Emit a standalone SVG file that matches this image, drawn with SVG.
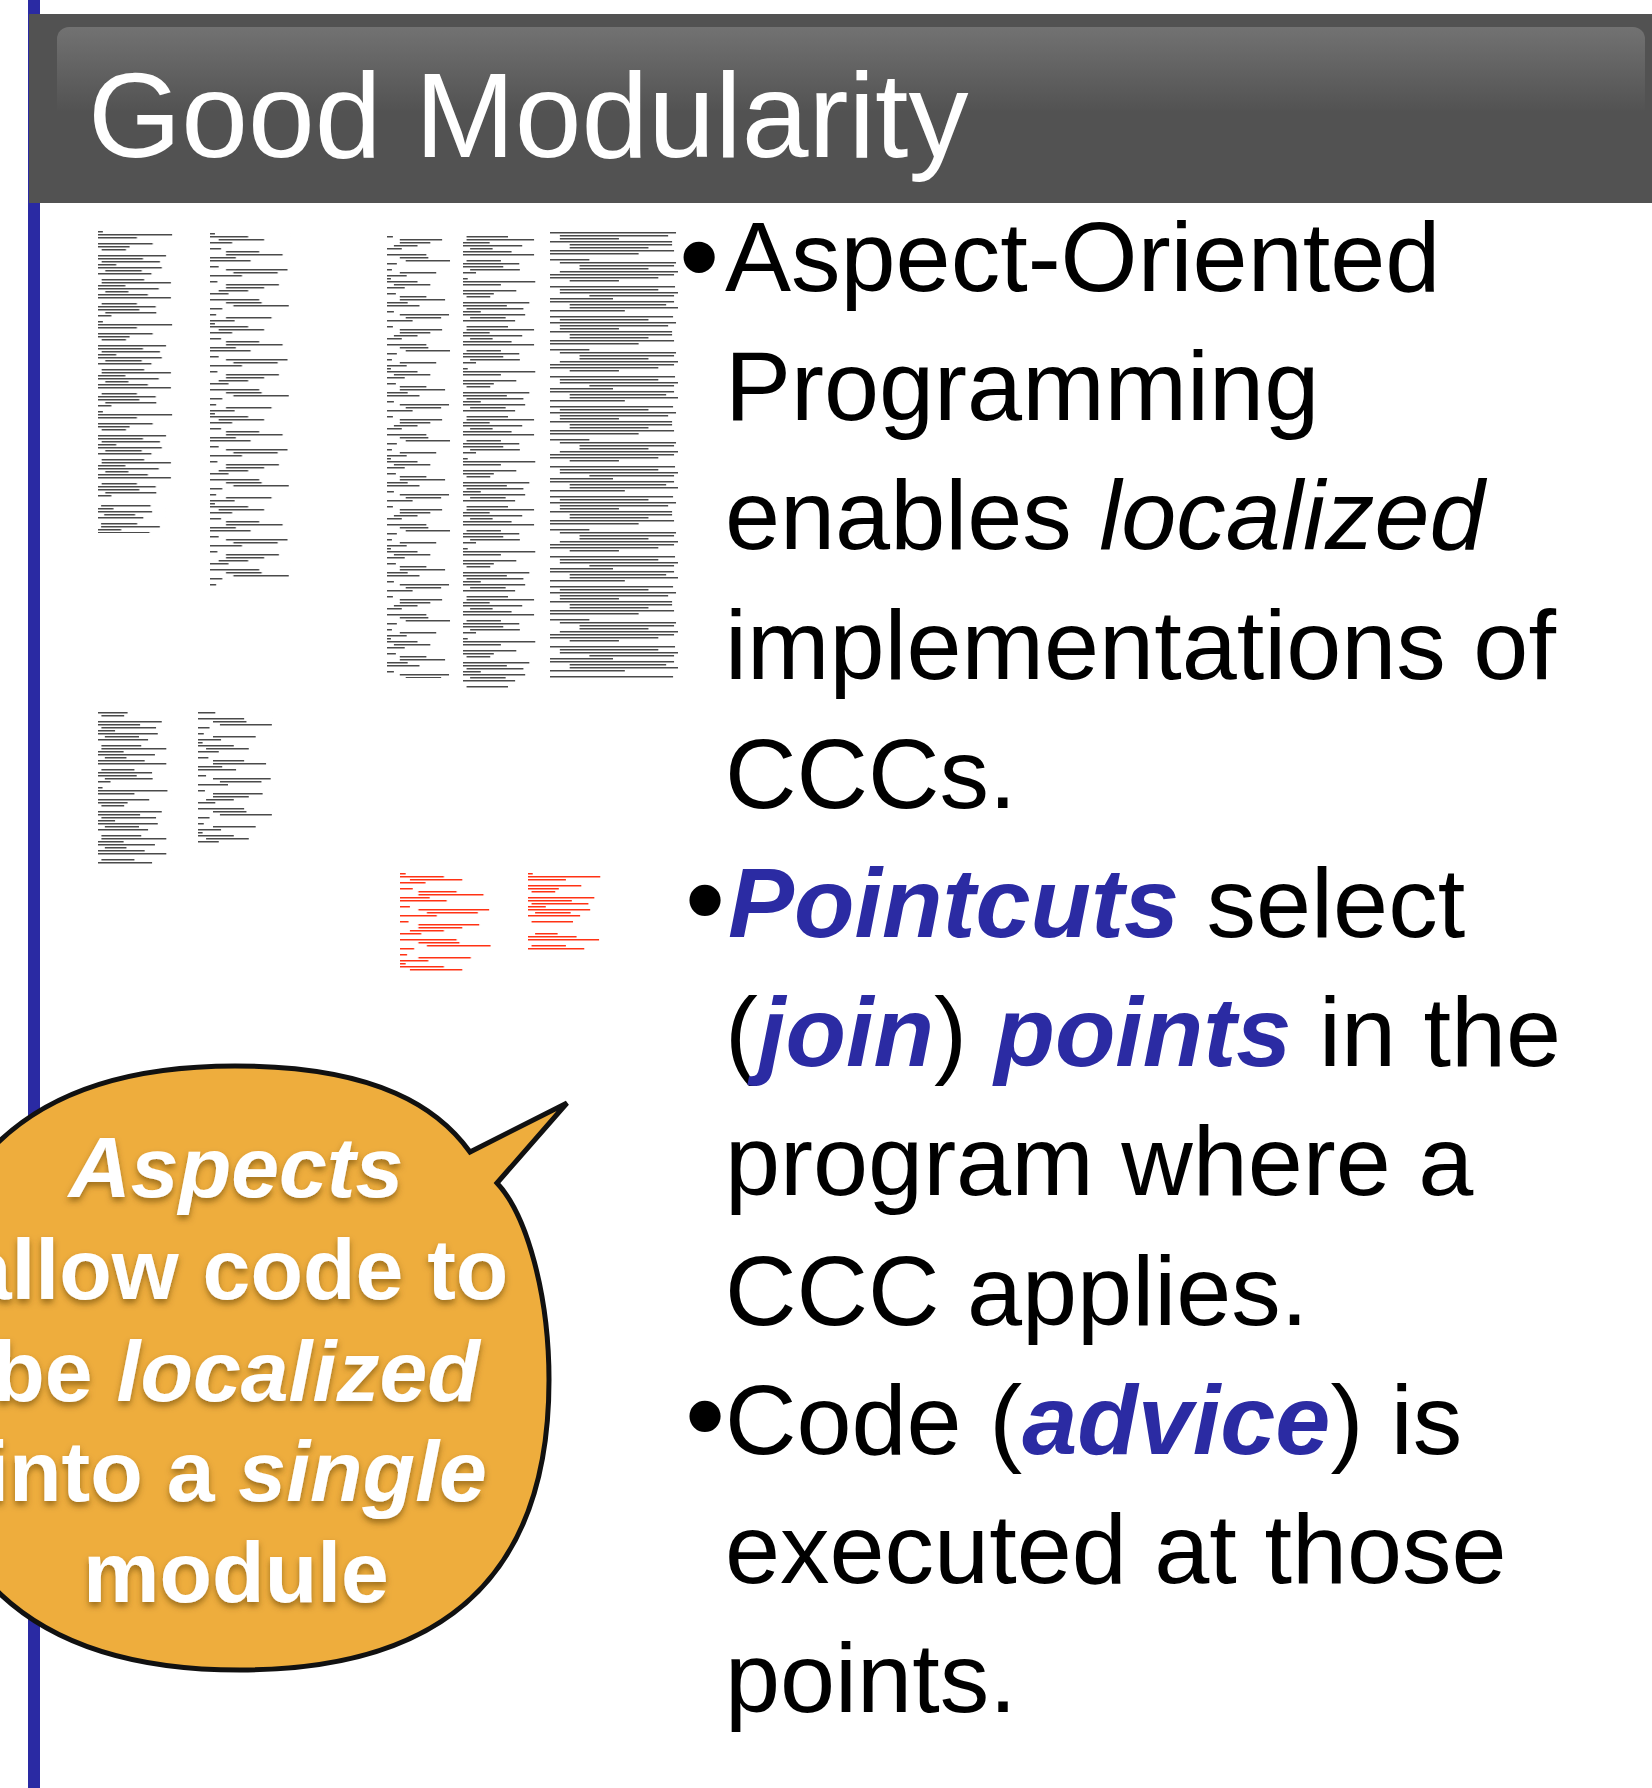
<svg xmlns="http://www.w3.org/2000/svg" xmlns:xlink="http://www.w3.org/1999/xlink" width="1652" height="1788" viewBox="0 0 1652 1788">
  <style>
    .body { font-family: "Liberation Sans", Arial, Helvetica, sans-serif; font-size: 99px; fill: #000; }
    .bul { font-family: "Liberation Sans", Arial, Helvetica, sans-serif; font-size: 115px; fill: #000; }
    .kw { font-weight: bold; font-style: italic; fill: #2b2ba3; }
    .it { font-style: italic; }
    .title { font-family: "Liberation Sans", Arial, Helvetica, sans-serif; font-size: 120px; fill: #fff; }
    .callout { font-family: "Liberation Sans", Arial, Helvetica, sans-serif; font-size: 86px; font-weight: bold; fill: #fff; text-anchor: middle; }
  </style>
  <defs>
    <linearGradient id="hdrGrad" gradientUnits="userSpaceOnUse" x1="0" y1="27" x2="0" y2="112">
      <stop offset="0" stop-color="#727272"/>
      <stop offset="1" stop-color="#525252"/>
    </linearGradient>
    <filter id="txtShadow" x="-20%" y="-20%" width="140%" height="160%">
      <feDropShadow dx="0" dy="4" stdDeviation="3" flood-color="#5a3a00" flood-opacity="0.55"/>
    </filter>

    <!-- greeked source-code lines, 3px pitch -->
    <g id="linesA">
      <rect x="0" y="0" width="8" height="1.5"/>
      <rect x="0" y="3" width="122" height="1.5"/>
      <rect x="0" y="6" width="64" height="1.5"/>
      <rect x="0" y="12" width="90" height="1.5"/>
      <rect x="0" y="15" width="52" height="1.5"/>
      <rect x="6" y="18" width="40" height="1.5"/>
      <rect x="0" y="24" width="112" height="1.5"/>
      <rect x="0" y="27" width="74" height="1.5"/>
      <rect x="6" y="30" width="96" height="1.5"/>
      <rect x="0" y="33" width="30" height="1.5"/>
      <rect x="0" y="36" width="105" height="1.5"/>
      <rect x="12" y="39" width="60" height="1.5"/>
      <rect x="0" y="42" width="88" height="1.5"/>
      <rect x="6" y="48" width="70" height="1.5"/>
      <rect x="6" y="51" width="114" height="1.5"/>
      <rect x="0" y="54" width="45" height="1.5"/>
      <rect x="0" y="57" width="100" height="1.5"/>
      <rect x="12" y="60" width="38" height="1.5"/>
      <rect x="0" y="63" width="82" height="1.5"/>
      <rect x="0" y="66" width="120" height="1.5"/>
      <rect x="6" y="72" width="58" height="1.5"/>
      <rect x="0" y="75" width="95" height="1.5"/>
      <rect x="0" y="78" width="68" height="1.5"/>
      <rect x="12" y="81" width="84" height="1.5"/>
      <rect x="0" y="84" width="22" height="1.5"/>
    </g>
    <g id="linesB">
      <rect x="0" y="0" width="8" height="1.5"/>
      <rect x="0" y="3" width="62" height="1.5"/>
      <rect x="14" y="6" width="74" height="1.5"/>
      <rect x="0" y="9" width="36" height="1.5"/>
      <rect x="0" y="15" width="18" height="1.5"/>
      <rect x="26" y="18" width="54" height="1.5"/>
      <rect x="26" y="21" width="92" height="1.5"/>
      <rect x="0" y="24" width="42" height="1.5"/>
      <rect x="0" y="27" width="66" height="1.5"/>
      <rect x="0" y="33" width="14" height="1.5"/>
      <rect x="26" y="36" width="100" height="1.5"/>
      <rect x="38" y="39" width="72" height="1.5"/>
      <rect x="0" y="42" width="52" height="1.5"/>
      <rect x="0" y="48" width="12" height="1.5"/>
      <rect x="26" y="51" width="86" height="1.5"/>
      <rect x="26" y="54" width="62" height="1.5"/>
      <rect x="14" y="57" width="48" height="1.5"/>
      <rect x="0" y="60" width="30" height="1.5"/>
      <rect x="0" y="66" width="80" height="1.5"/>
      <rect x="26" y="69" width="58" height="1.5"/>
      <rect x="38" y="72" width="90" height="1.5"/>
      <rect x="0" y="75" width="20" height="1.5"/>
      <rect x="0" y="81" width="10" height="1.5"/>
      <rect x="26" y="84" width="74" height="1.5"/>
      <rect x="0" y="87" width="40" height="1.5"/>
    </g>
    <g id="linesC">
      <rect x="0" y="0" width="128" height="1.5"/>
      <rect x="10" y="3" width="110" height="1.5"/>
      <rect x="10" y="6" width="60" height="1.5"/>
      <rect x="0" y="9" width="124" height="1.5"/>
      <rect x="20" y="12" width="104" height="1.5"/>
      <rect x="20" y="15" width="80" height="1.5"/>
      <rect x="0" y="18" width="126" height="1.5"/>
      <rect x="0" y="21" width="90" height="1.5"/>
      <rect x="0" y="27" width="40" height="1.5"/>
      <rect x="10" y="30" width="118" height="1.5"/>
      <rect x="30" y="33" width="96" height="1.5"/>
      <rect x="30" y="36" width="70" height="1.5"/>
      <rect x="10" y="39" width="120" height="1.5"/>
      <rect x="0" y="42" width="126" height="1.5"/>
      <rect x="0" y="45" width="110" height="1.5"/>
      <rect x="20" y="48" width="50" height="1.5"/>
      <rect x="0" y="54" width="127" height="1.5"/>
      <rect x="10" y="57" width="100" height="1.5"/>
      <rect x="10" y="60" width="122" height="1.5"/>
      <rect x="40" y="63" width="86" height="1.5"/>
      <rect x="0" y="66" width="64" height="1.5"/>
      <rect x="0" y="69" width="126" height="1.5"/>
      <rect x="20" y="72" width="98" height="1.5"/>
      <rect x="20" y="75" width="118" height="1.5"/>
      <rect x="0" y="78" width="76" height="1.5"/>
      <rect x="0" y="84" width="125" height="1.5"/>
      <rect x="10" y="87" width="90" height="1.5"/>
    </g>

    <pattern id="pA" patternUnits="userSpaceOnUse" width="130" height="90"><use xlink:href="#linesA" fill="#4a4a4a"/></pattern>
    <pattern id="pB" patternUnits="userSpaceOnUse" width="130" height="90"><use xlink:href="#linesB" fill="#4a4a4a"/></pattern>
    <pattern id="pC" patternUnits="userSpaceOnUse" width="130" height="90"><use xlink:href="#linesC" fill="#4a4a4a"/></pattern>
    <pattern id="pAr" patternUnits="userSpaceOnUse" width="130" height="90"><use xlink:href="#linesA" fill="#ff3214"/></pattern>
    <pattern id="pBr" patternUnits="userSpaceOnUse" width="130" height="90"><use xlink:href="#linesB" fill="#ff3214"/></pattern>
  </defs>

  <rect x="0" y="0" width="1652" height="1788" fill="#fff"/>

  <!-- left accent rule -->
  <rect id="accent-rule" x="28" y="0" width="12" height="1788" fill="#2a2aa3"/>

  <!-- header bar -->
  <g id="header">
    <rect x="29" y="14" width="1623" height="189" fill="#525252"/>
    <rect x="57" y="27" width="1588" height="176" rx="12" fill="url(#hdrGrad)"/>
    <text class="title" x="88" y="157">Good Modularity</text>
  </g>

  <!-- code listings (miniatures) -->
  <g id="listing-1">
    <g transform="translate(98,231) scale(0.6077,1)"><rect width="130" height="266" fill="url(#pA)"/></g>
    <g transform="translate(98,475) scale(0.5154,1)"><rect y="30" width="130" height="28" fill="url(#pA)"/></g>
    <g transform="translate(210,233) scale(0.6154,1)"><rect width="130" height="354" fill="url(#pB)"/></g>
  </g>
  <g id="listing-2">
    <g transform="translate(387,188) scale(0.4923,1)"><rect y="45" width="130" height="445" fill="url(#pB)"/></g>
    <g transform="translate(463,188) scale(0.5923,1)"><rect y="45" width="130" height="455" fill="url(#pA)"/></g>
    <g transform="translate(550,232) scale(0.9846,1)"><rect width="130" height="447" fill="url(#pC)"/></g>
  </g>
  <g id="listing-3">
    <g transform="translate(98,697) scale(0.5692,1)"><rect y="15" width="130" height="153" fill="url(#pA)"/></g>
    <g transform="translate(198,652) scale(0.5769,1)"><rect y="60" width="130" height="132" fill="url(#pB)"/></g>
  </g>
  <g id="aspect-listing">
    <g transform="translate(400,873) scale(0.7077,1)"><rect width="130" height="99" fill="url(#pBr)"/></g>
    <g transform="translate(528,873) scale(0.5923,1)"><rect width="130" height="51" fill="url(#pAr)"/></g>
    <g transform="translate(528,873) scale(0.5923,1)"><rect y="60" width="130" height="18" fill="url(#pAr)"/></g>
  </g>

  <!-- bullet points -->
  <g id="bullets">
    <text class="bul" x="679" y="296">•</text>
    <text class="bul it" x="684" y="939">•</text>
    <text class="bul it" x="684" y="1455">•</text>
    <text class="body">
      <tspan x="725" y="291">Aspect-Oriented</tspan>
      <tspan x="725" y="420">Programming</tspan>
      <tspan x="725" y="549">enables <tspan class="it">localized</tspan></tspan>
      <tspan x="725" y="679">implementations of</tspan>
      <tspan x="725" y="808">CCCs.</tspan>
      <tspan x="728" y="937"><tspan class="kw">Pointcuts</tspan> select</tspan>
      <tspan x="725" y="1066">(<tspan class="kw">join</tspan>) <tspan class="kw">points</tspan> in the</tspan>
      <tspan x="725" y="1195">program where a</tspan>
      <tspan x="725" y="1325">CCC applies.</tspan>
      <tspan x="725" y="1454">Code (<tspan class="kw">advice</tspan>) is</tspan>
      <tspan x="725" y="1583">executed at those</tspan>
      <tspan x="725" y="1712">points.</tspan>
    </text>
  </g>

  <!-- callout -->
  <g id="callout">
    <path d="M 235 1066 C 380 1066 440 1110 470 1152 L 567 1103 L 497 1183 C 527 1215 549 1295 549 1380 C 549 1575 445 1670 240 1670 C 27.5 1670 -80 1568 -80 1368 C -80 1167 26 1066 235 1066 Z" fill="#eead3d" stroke="#111" stroke-width="5" stroke-linejoin="miter"/>
    <g filter="url(#txtShadow)">
      <text class="callout" x="236" y="1197" font-style="italic">Aspects</text>
      <text class="callout" x="236" y="1299">allow code to</text>
      <text class="callout" x="236" y="1401">be <tspan font-style="italic">localized</tspan></text>
      <text class="callout" x="236" y="1501">into a <tspan font-style="italic">single</tspan></text>
      <text class="callout" x="236" y="1602">module</text>
    </g>
  </g>
</svg>
